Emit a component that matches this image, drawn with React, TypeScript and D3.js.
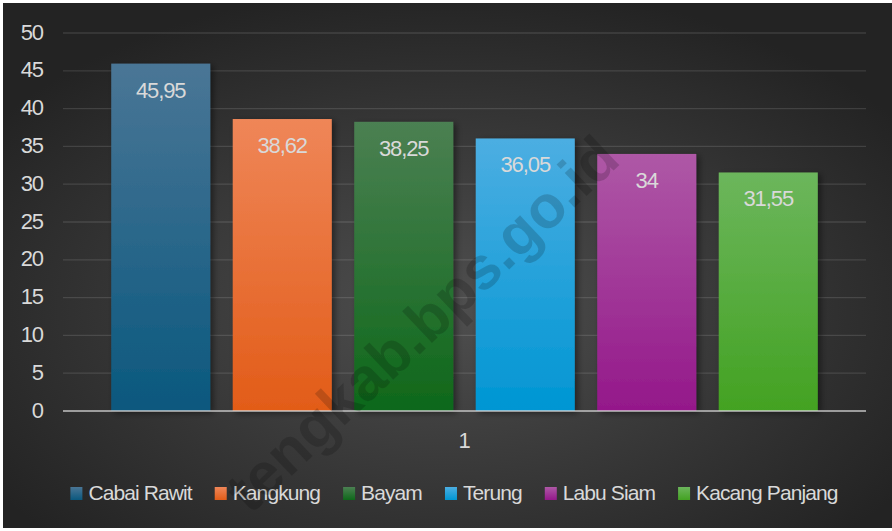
import React, { useEffect, useRef } from 'react';
import * as d3 from 'd3';

// nilai per komoditas (satu kategori "1")
const categories = ['1'];
const series = ['Cabai Rawit', 'Kangkung', 'Bayam', 'Terung', 'Labu Siam', 'Kacang Panjang'];
const values = [45.95, 38.62, 38.25, 36.05, 34, 31.55];
const yTicks = [0, 5, 10, 15, 20, 25, 30, 35, 40, 45, 50];

const topColors = ['#4a7696', '#ef8658', '#4b8052', '#4caee2', '#ae58a6', '#6cb65c'];
const bottomColors = ['#0a587e', '#e25c18', '#0e681a', '#0096d3', '#94188a', '#43a222'];

const W = 892, H = 531;
const fmt = (v: number) => String(v).replace('.', ',');

export default function App() {
    const ref = useRef<SVGSVGElement>(null);

    useEffect(() => {
        document.body.style.margin = '0';
        const svg = d3.select(ref.current);
        svg.selectAll('*').remove();
        const defs = svg.append('defs');

        const bg = defs.append('radialGradient').attr('id', 'bg')
            .attr('cx', '50%').attr('cy', '58%').attr('r', '62%');
        bg.append('stop').attr('offset', '0%').attr('stop-color', '#4f4f4f');
        bg.append('stop').attr('offset', '100%').attr('stop-color', '#232323');

        series.forEach((s, i) => {
            const g = defs.append('linearGradient').attr('id', 'g' + i)
                .attr('x1', 0).attr('y1', 0).attr('x2', 0).attr('y2', 1);
            g.append('stop').attr('offset', '0%').attr('stop-color', topColors[i]);
            g.append('stop').attr('offset', '100%').attr('stop-color', bottomColors[i]);
        });

        const shadow = defs.append('filter').attr('id', 'shadow')
            .attr('x', '-20%').attr('y', '-20%').attr('width', '140%').attr('height', '140%');
        shadow.append('feDropShadow').attr('dx', 3).attr('dy', 2).attr('stdDeviation', 3)
            .attr('flood-color', '#000').attr('flood-opacity', 0.45);

        svg.append('rect').attr('x', 3).attr('y', 3).attr('width', W - 3).attr('height', 525)
            .attr('fill', 'url(#bg)');

        const margin = { top: 33, left: 63, right: 26, bottom: 120 };
        const y = d3.scaleLinear().domain([0, 50]).range([H - margin.bottom, margin.top]);
        const x0 = d3.scaleBand().domain(categories).range([margin.left, W - margin.right]);
        const x1 = d3.scaleBand().domain(series).range([0, x0.bandwidth()])
            .paddingInner(0.185).paddingOuter(0.397);

        const font = '"Liberation Sans", Arial, sans-serif';
        const txt = '#d9d9d9';

        // gridlines
        svg.append('g').selectAll('line').data(yTicks.filter(t => t > 0)).enter().append('line')
            .attr('x1', margin.left).attr('x2', W - margin.right)
            .attr('y1', d => y(d)).attr('y2', d => y(d))
            .attr('stroke', '#ffffff').attr('stroke-opacity', 0.12).attr('stroke-width', 1.3);

        // tick labels
        svg.append('g').selectAll('text').data(yTicks).enter().append('text')
            .attr('x', 43).attr('y', d => y(d)).attr('dy', '0.3em')
            .attr('text-anchor', 'end').attr('fill', txt)
            .style('font-family', font).style('font-size', '22px').style('letter-spacing', '-1.1px')
            .text(d => d);

        // bars
        const cat = categories[0];
        svg.append('g').selectAll('rect').data(values).enter().append('rect')
            .attr('x', (d, i) => x0(cat)! + x1(series[i])!)
            .attr('y', d => y(d))
            .attr('width', x1.bandwidth())
            .attr('height', d => y(0) - y(d))
            .attr('fill', (d, i) => 'url(#g' + i + ')')
            .attr('filter', 'url(#shadow)');

        // value labels
        svg.append('g').selectAll('text').data(values).enter().append('text')
            .attr('x', (d, i) => x0(cat)! + x1(series[i])! + x1.bandwidth() / 2)
            .attr('y', d => y(d) + 34)
            .attr('text-anchor', 'middle').attr('fill', txt)
            .style('font-family', font).style('font-size', '22px').style('letter-spacing', '-1.1px')
            .text(d => fmt(d));

        // baseline
        svg.append('line')
            .attr('x1', margin.left).attr('x2', W - margin.right)
            .attr('y1', y(0)).attr('y2', y(0))
            .attr('stroke', '#d9d9d9').attr('stroke-opacity', 0.65).attr('stroke-width', 2);

        // category label
        svg.append('text')
            .attr('x', x0(cat)! + x0.bandwidth() / 2).attr('y', 448)
            .attr('text-anchor', 'middle').attr('fill', txt)
            .style('font-family', font).style('font-size', '22px')
            .text(cat);

        // legend
        const legend = svg.append('g');
        let lx = 0;
        series.forEach((s, i) => {
            const item = legend.append('g').attr('transform', 'translate(' + lx + ',0)');
            item.append('rect').attr('x', 0).attr('y', 487).attr('width', 12).attr('height', 13)
                .attr('fill', 'url(#g' + i + ')');
            const t = item.append('text').attr('x', 18).attr('y', 500).attr('fill', txt)
                .style('font-family', font).style('font-size', '21px').style('letter-spacing', '-0.9px')
                .text(s);
            const tw = (t.node() as SVGTextElement).getComputedTextLength();
            lx += 18 + tw + 23;
        });
        const legendW = lx - 23;
        legend.attr('transform', 'translate(' + (454 - legendW / 2) + ',0)');

        // watermark
        svg.append('text')
            .attr('transform', 'translate(422,324) rotate(-43.5)')
            .attr('text-anchor', 'middle').attr('dominant-baseline', 'central')
            .attr('fill', '#000').attr('fill-opacity', 0.17)
            .style('font-family', font).style('font-size', '60px').style('font-weight', 'bold')
            .text('tengkab.bps.go.id');
    }, []);

    return <svg ref={ref} width={W} height={H} style={{ display: 'block' }}></svg>;
}
